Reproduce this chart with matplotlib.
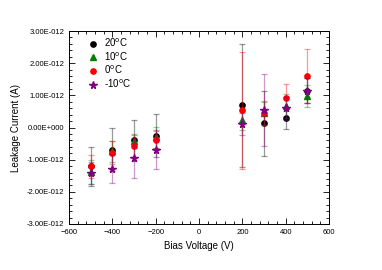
import numpy as np
import matplotlib
matplotlib.use('Agg')
import matplotlib.pyplot as plt
from matplotlib.ticker import FuncFormatter, MultipleLocator

plt.rcParams['font.family'] = ['Liberation Sans', 'DejaVu Sans']

voltage = [-500, -400, -300, -200, 200, 300, 400, 500]

# leakage current in units of 1e-12 A, with error bars
i_20 = [-1.21, -0.69, -0.40, -0.26, 0.69, 0.13, 0.29, 1.15]
e_20 = [0.60, 0.66, 0.64, 0.67, 1.92, 1.02, 0.34, 0.40]
i_10 = [-1.38, -0.74, -0.43, -0.31, 0.22, 0.44, 0.67, 0.98]
e_10 = [0.38, 0.33, 0.22, 0.32, 0.30, 0.35, 0.37, 0.35]
i_0 = [-1.21, -0.78, -0.57, -0.38, 0.53, 0.44, 0.92, 1.60]
e_0 = [0.37, 0.37, 0.35, 0.27, 1.82, 0.37, 0.42, 0.85]
i_m10 = [-1.42, -1.29, -0.96, -0.69, 0.11, 0.55, 0.60, 1.15]
e_m10 = [0.35, 0.42, 0.62, 0.60, 0.33, 1.11, 0.36, 0.38]

series = [
    (i_20, e_20, 'black', 'o', '20$^{\\rm o}$C'),
    (i_10, e_10, 'green', '^', '10$^{\\rm o}$C'),
    (i_0, e_0, 'red', 'o', '0$^{\\rm o}$C'),
    (i_m10, e_m10, 'purple', '*', '-10$^{\\rm o}$C'),
]

fig = plt.figure(figsize=(3.82, 2.70), dpi=100)
ax = fig.add_axes([69 / 382, 1 - 224 / 270, 260 / 382, 193 / 270])

v = np.array(voltage)
for vals, errs, col, mk, lab in series:
    y = np.array(vals) * 1e-12
    e = np.array(errs) * 1e-12
    ax.errorbar(v, y, yerr=e, fmt='none', ecolor=col, alpha=0.4,
                elinewidth=0.9, capsize=2.0, capthick=0.9)
    ax.plot(v, y, linestyle='none', marker=mk, color=col,
            markersize=3.8 if mk != '*' else 5.5, label=lab)

ax.set_xlim(-600, 600)
ax.set_ylim(-3e-12, 3e-12)
ax.xaxis.set_major_locator(MultipleLocator(200))
ax.xaxis.set_minor_locator(MultipleLocator(40))
ax.yaxis.set_major_locator(MultipleLocator(1e-12))
ax.yaxis.set_minor_locator(MultipleLocator(0.2e-12))


def sci_fmt(val, pos):
    if abs(val) < 1e-20:
        return '0.00E+000'
    exp = int(np.floor(np.log10(abs(val))))
    mant = val / 10 ** exp
    return '%.2fE%s%03d' % (mant, '-' if exp < 0 else '+', abs(exp))


ax.yaxis.set_major_formatter(FuncFormatter(sci_fmt))
ax.tick_params(which='both', direction='in', top=True, right=True,
               labelsize=5.5, width=0.6)
ax.tick_params(which='major', length=4)
ax.tick_params(which='minor', length=2)
for s in ax.spines.values():
    s.set_linewidth(0.7)

ax.set_xlabel('Bias Voltage (V)', fontsize=7)
ax.set_ylabel('Leakage Current (A)', fontsize=7)

ax.legend(loc='upper left', bbox_to_anchor=(0.045, 1.0), frameon=False,
          fontsize=7, handletextpad=0.5, labelspacing=0.12,
          borderaxespad=0.2, handlelength=1.3)

fig.savefig('out.png', dpi=100)
